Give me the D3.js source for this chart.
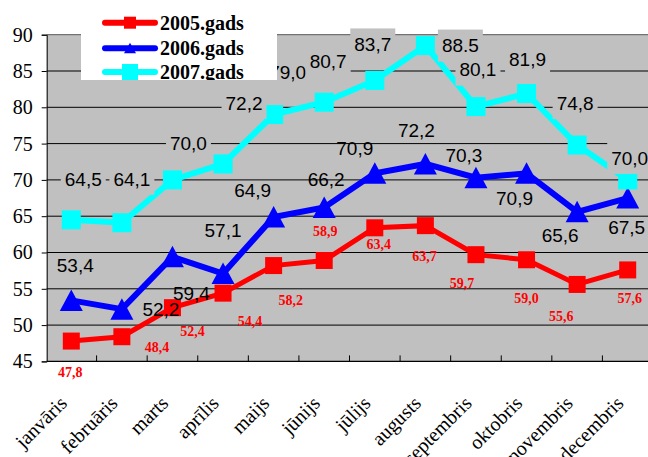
<!DOCTYPE html>
<html>
<head>
<meta charset="utf-8">
<script src="https://cdn.jsdelivr.net/npm/d3@7"></script>
<style>
  body { margin: 0; background: #fff; }
  svg { display: block; }
</style>
</head>
<body>
<svg id="chart"></svg>
<script>
// data
const months = ["janvāris", "februāris", "marts", "aprīlis", "maijs", "jūnijs",
                "jūlijs", "augusts", "septembris", "oktobris", "novembris", "decembris"];
const seriesNames = ["2005.gads", "2006.gads", "2007.gads"];
const values2005 = [47.8, 48.4, 52.4, 54.4, 58.2, 58.9, 63.4, 63.7, 59.7, 59.0, 55.6, 57.6];
const values2006 = [53.4, 52.2, 59.4, 57.1, 64.9, 66.2, 70.9, 72.2, 70.3, 70.9, 65.6, 67.5];
const values2007 = [64.5, 64.1, 70.0, 72.2, 79.0, 80.7, 83.7, 88.5, 80.1, 81.9, 74.8, 70.0];
const yTicks = [45, 50, 55, 60, 65, 70, 75, 80, 85, 90];
// the original shows this one label with a point
const labelOverride = { "2007.gads|augusts": "88.5" };

// where the labels sit relative to their marker (placed by hand in the original)
const off2005 = [[-1,31],[35,11],[20,24],[27,28],[17,35],[1,-29],[4,16],[-1,31],[-14,29],[0,38],[-16,32],[2,28]];
const off2006 = [[4,-35],[39,0],[19,36],[0,-43],[-21,-27],[2,-28],[-20,-25],[-9,-34],[-12,-23],[-12,25],[-17,23],[-1,29]];
const off2007 = [[12,-41],[10,-44],[16,-37],[21,-61],[14,-42],[4,-41],[-2,-36],[35,0],[2,-37],[1,-34],[-2,-42],[2,-22]];

const W = 648, H = 457;
const plotL = 46.7, plotR = 653, plotT = 34.7, plotB = 361.4;

const svg = d3.select("#chart").attr("width", W).attr("height", H);

const x = d3.scaleBand().domain(months).range([46, plotR]);
const y = d3.scaleLinear().domain([45, 90]).range([plotB, plotT]);
const cx = m => x(m) + x.bandwidth() / 2;

const series = [
  { name: seriesNames[0], values: values2005, off: off2005, color: "#ff0000", marker: "square", size: 17, width: 5, label: "red" },
  { name: seriesNames[1], values: values2006, off: off2006, color: "#0000ff", marker: "triangle", size: 23, width: 6, label: "plain" },
  { name: seriesNames[2], values: values2007, off: off2007, color: "#00ffff", marker: "square", size: 19, width: 6, label: "box" }
];

// plot area
svg.append("rect")
  .attr("x", plotL).attr("y", plotT)
  .attr("width", W - plotL).attr("height", plotB - plotT)
  .attr("fill", "#c0c0c0");

// grid
svg.append("g").selectAll("line")
  .data(yTicks.filter(t => t > 45 && t < 90))
  .join("line")
  .attr("x1", plotL).attr("x2", W)
  .attr("y1", d => y(d)).attr("y2", d => y(d))
  .attr("stroke", "#000").attr("stroke-width", 1);

svg.append("line")
  .attr("x1", plotL).attr("x2", W)
  .attr("y1", plotT).attr("y2", plotT)
  .attr("stroke", "#555").attr("stroke-width", 1);

// lines and markers
function marker(g, s, px, py) {
  if (s.marker === "square") {
    g.append("rect")
      .attr("x", px - s.size / 2).attr("y", py - s.size / 2)
      .attr("width", s.size).attr("height", s.size)
      .attr("fill", s.color);
  } else {
    let h = s.size / 2;
    g.append("path")
      .attr("d", `M${px},${py - h + 0.5}L${px + h},${py + h - 1}L${px - h},${py + h - 1}Z`)
      .attr("fill", s.color);
  }
}

const line = d3.line().x(d => cx(d.m)).y(d => y(d.v));

series.forEach(s => {
  let pts = months.map((m, i) => ({ m: m, v: s.values[i] }));
  let g = svg.append("g");
  g.append("path")
    .attr("d", line(pts))
    .attr("fill", "none")
    .attr("stroke", s.color)
    .attr("stroke-width", s.width)
    .attr("stroke-linejoin", "miter");
  pts.forEach(p => marker(g, s, cx(p.m), y(p.v)));
});

// data labels
const labelFmt = d3.format(".1f");
series.forEach(s => {
  let g = svg.append("g");
  months.forEach((m, i) => {
    let v = s.values[i];
    let txt = labelOverride[s.name + "|" + m] || labelFmt(v).replace(".", ",");
    let lx = cx(m) + s.off[i][0];
    let ly = y(v) + s.off[i][1];
    let t = g.append("text")
      .attr("x", lx).attr("y", ly)
      .attr("text-anchor", "middle")
      .text(txt);
    if (s.label === "red") {
      t.attr("dy", "0.34em")
        .attr("font-family", "'Liberation Serif', 'Times New Roman', serif")
        .attr("font-weight", "bold")
        .attr("font-size", 14)
        .attr("fill", "#ff0000");
    } else {
      t.attr("dy", "0.36em")
        .attr("font-family", "'Liberation Sans', Arial, sans-serif")
        .attr("font-size", 19)
        .attr("fill", "#000");
      if (s.label === "box") {
        let w = t.node().getComputedTextLength();
        g.insert("rect", () => t.node())
          .attr("x", lx - w / 2 - 4).attr("y", ly - 16)
          .attr("width", w + 8).attr("height", 32)
          .attr("fill", "#c0c0c0");
      }
    }
  });
});

// axes
const yAxis = svg.append("g")
  .attr("transform", `translate(${plotL},0)`)
  .call(d3.axisLeft(y).tickValues(yTicks).tickSize(5).tickPadding(9));
yAxis.select(".domain").attr("stroke", "#000");
yAxis.selectAll(".tick line").attr("stroke", "#000");
yAxis.selectAll("text")
  .attr("font-family", "'Liberation Serif', 'Times New Roman', serif")
  .attr("font-size", 20)
  .attr("fill", "#000");

const xAxis = svg.append("g")
  .attr("transform", `translate(0,${plotB})`);
xAxis.append("line")
  .attr("x1", plotL).attr("x2", W)
  .attr("stroke", "#000").attr("stroke-width", 1.2);
xAxis.selectAll(".tk")
  .data(months.slice(1))
  .join("line")
  .attr("class", "tk")
  .attr("x1", d => x(d)).attr("x2", d => x(d))
  .attr("y1", 0).attr("y2", -6)
  .attr("stroke", "#000");
xAxis.selectAll(".lbl")
  .data(months)
  .join("text")
  .attr("class", "lbl")
  .attr("transform", d => `translate(${cx(d) - 3},${43}) rotate(-45)`)
  .attr("text-anchor", "end")
  .attr("font-family", "'Liberation Serif', 'Times New Roman', serif")
  .attr("font-size", 20)
  .attr("fill", "#000")
  .text(d => d);

// legend (its box clips the last entry, like the original)
svg.append("clipPath").attr("id", "legClip")
  .append("rect").attr("x", 81).attr("y", 0).attr("width", 196).attr("height", 80);
const leg = svg.append("g").attr("clip-path", "url(#legClip)");
leg.append("rect").attr("x", 81).attr("y", 0).attr("width", 196).attr("height", 80).attr("fill", "#fff");
const legRows = [22.7, 48.3, 72];
const legSizes = [12, 12, 16];
series.forEach((s, i) => {
  let ry = legRows[i];
  leg.append("line")
    .attr("x1", 105).attr("x2", 155)
    .attr("y1", ry).attr("y2", ry)
    .attr("stroke", s.color).attr("stroke-width", 6)
    .attr("stroke-linecap", "round");
  marker(leg, Object.assign({}, s, { size: legSizes[i] }), 130, ry);
  leg.append("text")
    .attr("x", 160).attr("y", ry + 6.8)
    .attr("font-family", "'Liberation Serif', 'Times New Roman', serif")
    .attr("font-weight", "bold")
    .attr("font-size", 20)
    .attr("fill", "#000")
    .text(s.name);
});
</script>
</body>
</html>
